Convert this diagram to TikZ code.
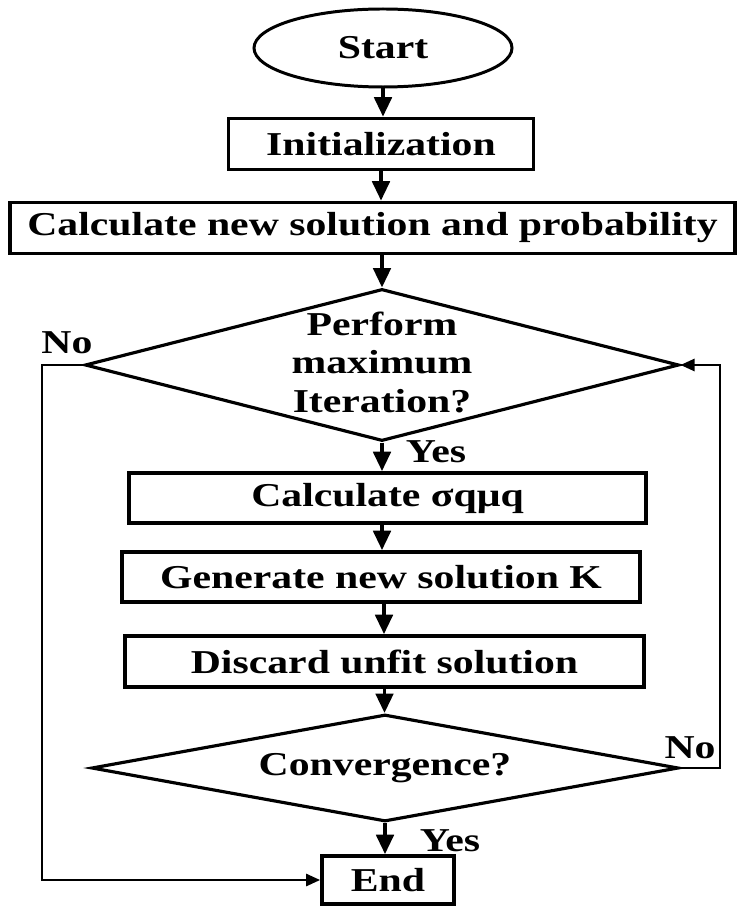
\documentclass[tikz,border=0pt]{standalone}
\usepackage{fontspec}
\setmainfont{Liberation Serif}
\usepackage{graphicx}
\usetikzlibrary{shapes.geometric, arrows.meta, calc}
\newcommand{\wtxt}[1]{\scalebox{1.25}[1]{#1}}

\begin{document}
\begin{tikzpicture}[
  every node/.style={font=\fontsize{19}{22}\selectfont\bfseries},
  box/.style={draw, line width=2.2pt, rectangle, inner sep=0pt, minimum height=1.02cm},
  term/.style={draw, line width=1.7pt, ellipse, inner sep=0pt},
  decide/.style={draw, line width=1.8pt, diamond, inner sep=0pt},
  flow/.style={line width=1.8pt, -{Triangle[length=11pt,width=10pt]}},
  back/.style={line width=1.2pt, -{Triangle[length=8pt,width=7pt]}}
]
\useasboundingbox (0,0) rectangle (14.8,-18.14);

% blocks
\node[term, minimum width=5.16cm, minimum height=1.56cm] (start) at (7.66,-0.96) {\wtxt{Start}};
\node[box, minimum width=6.1cm] (init) at (7.62,-2.88) {\wtxt{Initialization}};
\node[box, minimum width=14.5cm] (calc) at (7.45,-4.56) {\wtxt{Calculate new solution and probability}};
\node[decide, minimum width=11.88cm, minimum height=3.04cm] (iter) at (7.64,-7.30) {};
\node (itertxt) at (7.64,-7.32) {\wtxt{\begin{tabular}{@{}c@{}}Perform\\maximum\\Iteration?\end{tabular}}};
\node[box, minimum width=10.34cm, minimum height=1.0cm] (sigma) at (7.75,-9.96) {\wtxt{Calculate σqμq}};
\node[box, minimum width=10.36cm, minimum height=1.0cm] (gen) at (7.62,-11.54) {\wtxt{Generate new solution K}};
\node[box, minimum width=10.38cm] (disc) at (7.69,-13.23) {\wtxt{Discard unfit solution}};
\node[decide, minimum width=11.74cm, minimum height=2.14cm] (conv) at (7.70,-15.36) {};
\node (convtxt) at (7.70,-15.36) {\wtxt{Convergence?}};
\node[box, minimum width=2.64cm, minimum height=0.96cm] (end) at (7.76,-17.6) {\wtxt{End}};

% main flow
\coordinate (c1) at (7.64,-5.07);
\coordinate (c2) at (7.64,-10.46);
\coordinate (c3) at (7.68,-12.04);
\draw[flow] (start.south) -- (start.south |- init.north);
\draw[flow] (init.south) -- (init.south |- calc.north);
\draw[flow] (c1) -- (iter.north);
\draw[flow] (iter.south) -- (iter.south |- sigma.north);
\draw[flow] (c2) -- (c2 |- gen.north);
\draw[flow] (c3) -- (c3 |- disc.north);
\draw[flow] (disc.south) -- (disc.south |- conv.north);
\draw[flow] (conv.south) -- (conv.south |- end.north);

% loops
\coordinate (rloop) at (14.4,-15.36);
\coordinate (lloop) at (0.84,-7.30);
\draw[back] (conv.east) -- (rloop) |- (iter.east);
\draw[back] (iter.west) -- (lloop) |- (end.west);

% labels
\node (no1) at (1.34,-6.86) {\wtxt{No}};
\node (yes1) at (8.72,-9.04) {\wtxt{Yes}};
\node (no2) at (13.8,-14.96) {\wtxt{No}};
\node (yes2) at (9.0,-16.82) {\wtxt{Yes}};
\end{tikzpicture}
\end{document}
